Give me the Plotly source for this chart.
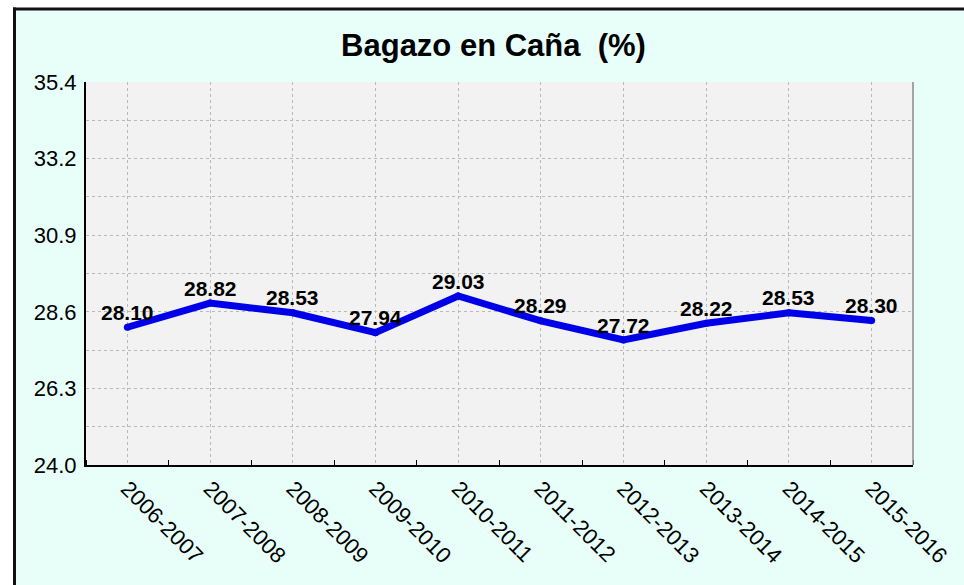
import plotly.graph_objects as go

# Zafra seasons and bagasse content in cane (%)
seasons = ["2006-2007", "2007-2008", "2008-2009", "2009-2010", "2010-2011",
           "2011-2012", "2012-2013", "2013-2014", "2014-2015", "2015-2016"]
bagazo = [28.10, 28.82, 28.53, 27.94, 29.03, 28.29, 27.72, 28.22, 28.53, 28.30]

y_ticks = [24.0, 26.28, 28.56, 30.84, 33.12, 35.4]
y_tick_labels = ["24.0", "26.3", "28.6", "30.9", "33.2", "35.4"]

FONT = "Liberation Sans, Arial, sans-serif"
BG = "#e8fff9"
GRID = "#b9b9b9"

W, H = 964, 585
ML, MR, MT, MB = 86, 49, 82, 120

idx = list(range(len(seasons)))

fig = go.Figure()
fig.add_trace(go.Scatter(
    x=idx, y=bagazo, mode="lines+markers",
    line=dict(color="#0000e8", width=7),
    marker=dict(color="#0000e8", size=7),
    hoverinfo="skip", showlegend=False,
))

# value labels above each point
for i, v in zip(idx, bagazo):
    fig.add_annotation(
        x=i, y=v, text=f"<b>{v:.2f}</b>", showarrow=False,
        yshift=15, yanchor="middle", xanchor="center",
        font=dict(family=FONT, size=21, color="black"),
    )

# frame: white strips outside the chart border, plus the border lines
shapes = [
    # white strip along the top
    dict(type="rect", xref="paper", yref="paper", xsizemode="pixel", ysizemode="pixel",
         xanchor=0, yanchor=1, x0=-ML - 5, x1=W, y0=MT - 8, y1=MT + 10,
         fillcolor="white", line=dict(width=0), layer="below"),
    # white strip along the left
    dict(type="rect", xref="paper", yref="paper", xsizemode="pixel", ysizemode="pixel",
         xanchor=0, yanchor=1, x0=-ML - 5, x1=-ML + 14, y0=-(H), y1=MT + 10,
         fillcolor="white", line=dict(width=0), layer="below"),
    # top border
    dict(type="line", xref="paper", yref="paper", xsizemode="pixel", ysizemode="pixel",
         xanchor=0, yanchor=1, x0=-ML + 13, x1=W, y0=MT - 9, y1=MT - 9,
         line=dict(color="#111111", width=3), layer="above"),
    # left border
    dict(type="line", xref="paper", yref="paper", xsizemode="pixel", ysizemode="pixel",
         xanchor=0, yanchor=1, x0=-ML + 14.5, x1=-ML + 14.5, y0=MT - 7.5, y1=-H,
         line=dict(color="#111111", width=3), layer="above"),
    # right edge of the plot area
    dict(type="line", xref="paper", yref="paper", x0=1, x1=1, y0=0, y1=1,
         line=dict(color="#8a8a8a", width=1.5), layer="above"),
]

fig.update_layout(
    width=W, height=H,
    margin=dict(l=ML, r=MR, t=MT, b=MB, pad=0),
    paper_bgcolor=BG, plot_bgcolor="#f2f2f2",
    font=dict(family=FONT, size=22, color="black"),
    title=dict(
        text="<b>Bagazo en Caña\u00a0 (%)</b>",
        font=dict(family=FONT, size=31, color="black"),
        x=(494.5 - ML) / (W - ML - MR), xref="paper", xanchor="center",
        y=1 - 45 / H, yref="container", yanchor="middle",
    ),
    shapes=shapes,
    xaxis=dict(
        range=[-0.5, len(seasons) - 0.5],
        tickmode="array", tickvals=idx, ticktext=seasons,
        tickangle=45, ticks="", showgrid=True, gridcolor=GRID,
        griddash="dot", gridwidth=1,
        showline=True, linecolor="black", linewidth=2,
        zeroline=False, fixedrange=True,
        tickfont=dict(family=FONT, size=22, color="black"),
        minor=dict(tick0=0.5, dtick=1, ticks="inside", ticklen=5,
                   tickcolor="black", tickwidth=1, showgrid=False),
    ),
    yaxis=dict(
        range=[y_ticks[0], y_ticks[-1]],
        tickmode="array", tickvals=y_ticks, ticktext=y_tick_labels,
        ticks="", ticklabelstandoff=3,
        showgrid=True, gridcolor=GRID, griddash="dot", gridwidth=1,
        showline=True, linecolor="black", linewidth=2,
        zeroline=False, fixedrange=True,
        tickfont=dict(family=FONT, size=22, color="black"),
        minor=dict(tick0=y_ticks[0], dtick=(y_ticks[1] - y_ticks[0]) / 2,
                   showgrid=True, gridcolor=GRID, griddash="dot", gridwidth=1),
    ),
)

fig.write_html("out.html")
